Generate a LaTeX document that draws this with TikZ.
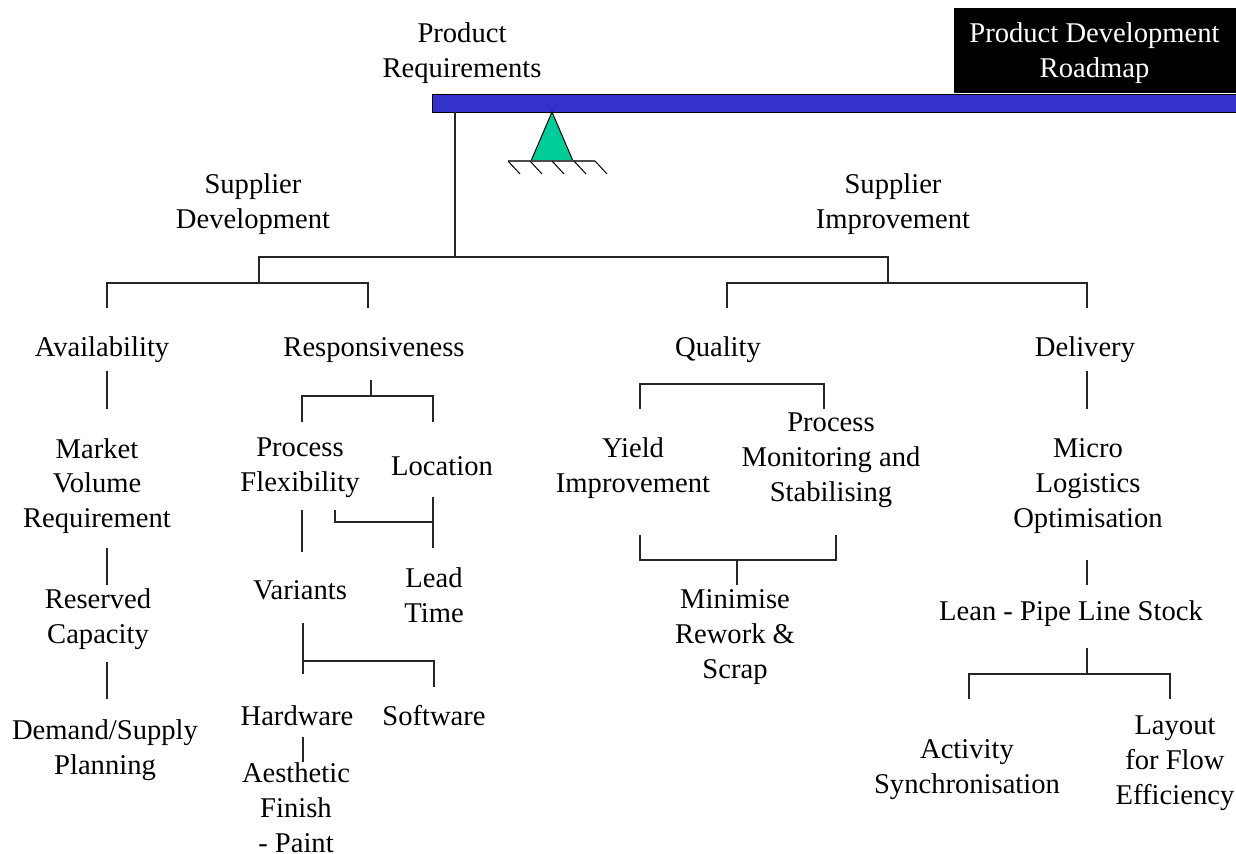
\documentclass[tikz,border=0pt]{standalone}
\usepackage{fontspec}
\setmainfont{Liberation Serif}
\usepackage{tikz}
\definecolor{beamblue}{RGB}{51,51,204}
\definecolor{pivotgreen}{RGB}{0,204,153}
\tikzset{
  lbl/.style={align=center, inner sep=0.5pt, yshift=-1.5pt, font=\fontsize{14.3}{17.4}\selectfont},
  link/.style={line width=0.6pt, draw=black!85},
}

\begin{document}
\begin{tikzpicture}[x=0.5pt, y=-0.5pt]
        \useasboundingbox (0,0) rectangle (1236,854);

        % beam and pivot
        \fill[black] (954,8) rectangle (1236,93);
        \node[draw=black, fill=beamblue, inner sep=0, minimum width=402pt, minimum height=9pt] (beam) at (834,103) {};
        \node[lbl, text=white] (roadmap) at (1094.5,50) {Product Development\\Roadmap};
        \filldraw[fill=pivotgreen, draw=black, line width=0.5pt] (552,112) -- (531,161) -- (573,161) -- cycle;
        \draw[line width=1pt, black!70] (508,161) -- (595,161);
        \foreach \x in {508,530,552,574,595}
            \draw[line width=0.5pt] (\x,161) -- ++(12,13);

        % labels
        \node[lbl] (prodreq) at (462,50) {Product\\Requirements};
        \node[lbl] (supdev) at (253,201) {Supplier\\Development};
        \node[lbl] (supimp) at (893,201) {Supplier\\Improvement};
        \node[lbl] (avail) at (102,347) {Availability};
        \node[lbl] (resp) at (374,347) {Responsiveness};
        \node[lbl] (qual) at (718,347) {Quality};
        \node[lbl] (deliv) at (1085,347) {Delivery};
        \node[lbl] (mvr) at (97,483) {Market\\Volume\\Requirement};
        \node[lbl] (resc) at (98,616) {Reserved\\Capacity};
        \node[lbl] (dsp) at (105,747) {Demand/Supply\\Planning};
        \node[lbl] (pflex) at (300,465) {Process\\Flexibility};
        \node[lbl] (loc) at (442,463) {Location};
        \node[lbl] (variants) at (300,587) {Variants};
        \node[lbl] (lead) at (434,592) {Lead\\Time};
        \node[lbl] (hard) at (297,713) {Hardware};
        \node[lbl] (soft) at (434,713) {Software};
        \node[lbl] (aes) at (296,805) {Aesthetic\\Finish\\- Paint};
        \node[lbl] (yield) at (633,465) {Yield\\Improvement};
        \node[lbl] (pmon) at (831,457) {Process\\Monitoring and\\Stabilising};
        \node[lbl] (minr) at (735,634) {Minimise\\Rework \&\\Scrap};
        \node[lbl] (micro) at (1088,483) {Micro\\Logistics\\Optimisation};
        \node[lbl] (lean) at (1071,611) {Lean - Pipe Line Stock};
        \node[lbl] (act) at (967,767) {Activity\\Synchronisation};
        \node[lbl] (layout) at (1175,760) {Layout\\for Flow\\Efficiency};

        % junctions and line ends
        \coordinate (top) at (455,257);
        \coordinate (dev) at (259,283);
        \coordinate (imp) at (888,283);
        \coordinate (avtop) at (107,308);
        \coordinate (retop) at (368,308);
        \coordinate (qutop) at (727,308);
        \coordinate (detop) at (1087,308);
        \coordinate (a1) at (107,371);
        \coordinate (a2) at (107,409);
        \coordinate (a3) at (107,548);
        \coordinate (a4) at (107,585);
        \coordinate (a5) at (107,662);
        \coordinate (a6) at (107,699);
        \coordinate (r0) at (371,380);
        \coordinate (rj) at (371,396);
        \coordinate (pftop) at (302,422);
        \coordinate (lotop) at (433,422);
        \coordinate (p1) at (335,510);
        \coordinate (p2) at (433,522);
        \coordinate (p3) at (302,510);
        \coordinate (p4) at (302,552);
        \coordinate (l1) at (433,497);
        \coordinate (l2) at (433,548);
        \coordinate (v1) at (303,623);
        \coordinate (v2) at (303,674);
        \coordinate (vj) at (303,661);
        \coordinate (swtop) at (434,687);
        \coordinate (h1) at (303,737);
        \coordinate (h2) at (303,762);
        \coordinate (qj) at (732,384);
        \coordinate (yitop) at (640,409);
        \coordinate (pmtop) at (824,409);
        \coordinate (yibot) at (640,535);
        \coordinate (pmbot) at (836,535);
        \coordinate (mj) at (737,560);
        \coordinate (mr) at (737,585);
        \coordinate (d1) at (1087,371);
        \coordinate (d2) at (1087,409);
        \coordinate (d3) at (1087,560);
        \coordinate (d4) at (1087,585);
        \coordinate (d5) at (1087,648);
        \coordinate (dj) at (1087,674);
        \coordinate (actop) at (969,699);
        \coordinate (latop) at (1170,699);

        % tree
        \draw[link] (beam.south -| top) -- (top);
        \draw[link] (dev) |- (top) -| (imp);
        \draw[link] (avtop) |- (dev) -| (retop);
        \draw[link] (qutop) |- (imp) -| (detop);
        \draw[link] (pftop) |- (rj) -| (lotop);
        \draw[link] (p1) |- (p2);
        \draw[link] (vj) -| (swtop);
        \draw[link] (yitop) |- (qj) -| (pmtop);
        \draw[link] (yibot) |- (mj) -| (pmbot);
        \draw[link] (actop) |- (dj) -| (latop);
        \foreach \a/\b in {a1/a2, a3/a4, a5/a6, r0/rj, p3/p4, l1/l2, v1/v2, h1/h2, mj/mr, d1/d2, d3/d4, d5/dj}
            \draw[link] (\a) -- (\b);
    \end{tikzpicture}
\end{document}
